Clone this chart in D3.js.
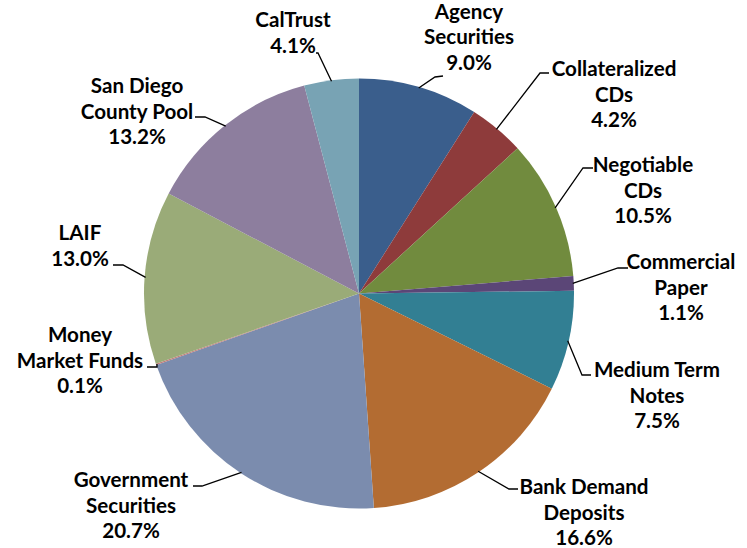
<!DOCTYPE html>
<html>
<head>
<meta charset="utf-8">
<script src="https://cdn.jsdelivr.net/npm/d3@7/dist/d3.min.js"></script>
<style>
  html, body { margin: 0; padding: 0; background: #ffffff; }
  svg { display: block; }
</style>
</head>
<body>
<svg id="chart" width="747" height="548"></svg>
<script>
// ---- Data ----
const categories = [
  "Agency Securities", "Collateralized CDs", "Negotiable CDs", "Commercial Paper",
  "Medium Term Notes", "Bank Demand Deposits", "Government Securities",
  "Money Market Funds", "LAIF", "San Diego County Pool", "CalTrust"
];
const values = [9.0, 4.2, 10.5, 1.1, 7.5, 16.6, 20.7, 0.1, 13.0, 13.2, 4.1];
const labelLines = [
  ["Agency", "Securities"], ["Collateralized", "CDs"], ["Negotiable", "CDs"],
  ["Commercial", "Paper"], ["Medium Term", "Notes"], ["Bank Demand", "Deposits"],
  ["Government", "Securities"], ["Money", "Market Funds"], ["LAIF"],
  ["San Diego", "County Pool"], ["CalTrust"]
];
const colors = [
  "#3a5e8c", "#8e3b3b", "#718b3e", "#5b4677", "#327f93", "#b36c32",
  "#7b8cae", "#c07c79", "#9aab78", "#8d7e9e", "#78a3b4"
];

// ---- Label layout (annotation placement, as in the original) ----
const labelX = [469, 614, 643, 681, 657, 584, 131, 80, 80, 137, 293];
const labelY = [18.5, 76, 172, 269, 377, 494, 487, 342, 240, 93, 27];
const leaderElbow = [[435,77],[540,73],[583,168],[618,268],[582,375],[509,489],[202,486],[157,367],[123,265],[205,117],[318,53]];
const leaderEnd = [[443,76],[549,73],[593,168],[628,268],[591,375],[518,489],[193,486],[147,367],[113,265],[195,117],[316,53]];

// ---- Chart ----
const width = 747, height = 548;
const cx = 359, cy = 293.5, radius = 215;
const lineHeight = 25.7;
const fmt = d3.format(".1f");

const svg = d3.select("#chart");
const g = svg.append("g").attr("transform", `translate(${cx},${cy})`);

const pie = d3.pie().sort(null).value(d => d.value).startAngle(0).endAngle(2 * Math.PI);
const data = categories.map((c, i) => ({ name: c, value: values[i], i }));
const arcs = pie(data);
const arc = d3.arc().innerRadius(0).outerRadius(radius);

g.selectAll("path.slice")
  .data(arcs)
  .enter().append("path")
  .attr("class", "slice")
  .attr("d", arc)
  .attr("fill", d => colors[d.data.i]);

// leader lines
svg.selectAll("polyline.leader")
  .data(arcs)
  .enter().append("polyline")
  .attr("class", "leader")
  .attr("fill", "none")
  .attr("stroke", "#000")
  .attr("stroke-width", 1.3)
  .attr("points", d => {
    const mid = (d.startAngle + d.endAngle) / 2;
    const sx = cx + (radius - 1) * Math.sin(mid);
    const sy = cy - (radius - 1) * Math.cos(mid);
    const e = leaderElbow[d.data.i], t = leaderEnd[d.data.i];
    return [[sx, sy], e, t].map(p => p.join(",")).join(" ");
  });

// labels
const labels = svg.selectAll("text.label")
  .data(arcs)
  .enter().append("text")
  .attr("class", "label")
  .attr("text-anchor", "middle")
  .attr("font-family", "Lato, 'Open Sans', sans-serif")
  .attr("font-weight", "bold")
  .attr("font-size", 20.6)
  .attr("fill", "#000");

labels.each(function(d) {
  const i = d.data.i;
  const lines = labelLines[i].concat([fmt(d.data.value) + "%"]);
  d3.select(this).selectAll("tspan")
    .data(lines)
    .enter().append("tspan")
    .attr("x", labelX[i])
    .attr("y", (l, k) => labelY[i] + k * lineHeight)
    .text(l => l);
});
</script>
</body>
</html>
